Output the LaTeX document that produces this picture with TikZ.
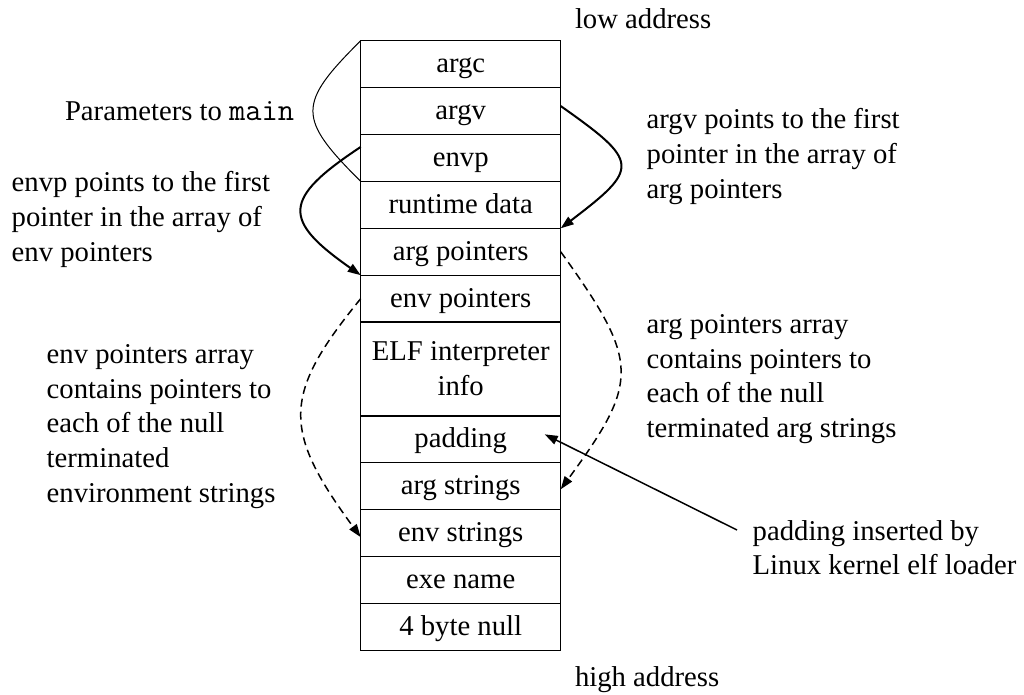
\documentclass[tikz,border=0pt]{standalone}
\usepackage{fontspec}
\setmainfont{Liberation Serif}
\usetikzlibrary{arrows.meta}

% multi-line block whose baseline is the baseline of its first line
\newcommand{\textlines}[1]{\begin{tabular}[t]{@{}l@{}}#1\end{tabular}}
% light typewriter face for code names
\newcommand{\code}[1]{{\ttfamily\fontsize{31.6}{34.8}\selectfont #1}}

\begin{document}
\begin{tikzpicture}[x=1pt,y=-1pt,
  every node/.style={font=\fontsize{28.7}{34.8}\selectfont, inner sep=0pt, outer sep=0pt},
  cellbox/.style={draw, line width=1.3pt, minimum width=200pt, minimum height=46.9pt},
  cell/.style={cellbox, text height=21pt, text depth=4pt},
  note/.style={anchor=base west},
  tip/.style={-{Triangle[length=13pt,width=9pt]}},
  ptr/.style={tip, line width=2pt},
  dptr/.style={tip, line width=1.5pt, dash pattern=on 8pt off 5pt},
  callout/.style={tip, line width=1.5pt},
  brace/.style={line width=1pt}
]
\useasboundingbox (0,0) rectangle (1024,695);

% the process stack, low addresses at the top
\node[cell] (argc)    at (460.7,64.15)  {argc};
\node[cell] (argv)    at (460.7,111.05) {argv};
\node[cell] (envp)    at (460.7,157.95) {envp};
\node[cell] (runtime) at (460.7,204.85) {runtime data};
\node[cell] (argptr)  at (460.7,251.75) {arg pointers};
\node[cell] (envptr)  at (460.7,298.65) {env pointers};
\node[cellbox, minimum height=93.8pt, align=center] (elf) at (460.7,369.0) {ELF interpreter\\info};
\node[cell] (padding) at (460.7,439.35) {padding};
\node[cell] (argstr)  at (460.7,486.25) {arg strings};
\node[cell] (envstr)  at (460.7,533.15) {env strings};
\node[cell] (exe)     at (460.7,580.05) {exe name};
\node[cell] (null)    at (460.7,626.95) {4 byte null};

% address labels
\node[note] (low)  at (575,28.3)  {low address};
\node[note] (high) at (575,686.7) {high address};

% annotations
\node[note] (params)  at (65,121)    {Parameters to \code{main}};
\node[note] (envpnote) at (11.7,191.7) {\textlines{envp points to the first\\pointer in the array of\\env pointers}};
\node[note] (argvnote) at (646.7,129) {\textlines{argv points to the first\\pointer in the array of\\arg pointers}};
\node[note] (envarr)  at (46.7,363.3) {\textlines{env pointers array\\contains pointers to\\each of the null\\terminated\\environment strings}};
\node[note] (argarr)  at (646.7,333.3) {\textlines{arg pointers array\\contains pointers to\\each of the null\\terminated arg strings}};
\node[note] (padnote) at (752.7,540) {\textlines{padding inserted by\\Linux kernel elf loader}};

% bracket grouping the parameters to main
\draw[brace] (argc.north west) .. controls (297,104) and (297,118) .. (runtime.north west);

% argv and envp pointers
\draw[ptr] ([yshift=5pt]argv.east) .. controls (640,162) and (640,168) .. (runtime.south east);
\draw[ptr] ([yshift=11pt]envp.west) .. controls (282,199) and (282,220) .. (argptr.south west);

% pointer arrays to their strings
\draw[dptr] (argptr.east) .. controls (640,362) and (640,381) .. ([yshift=-3pt]argstr.east);
\draw[dptr] (envptr.west) .. controls (282,395) and (282,430) .. ([yshift=-4pt]envstr.west);

% padding callout
\coordinate (padfrom) at (737,530);
\draw[callout] (padfrom) -- ([xshift=-16pt,yshift=5pt]padding.east);
\end{tikzpicture}
\end{document}
